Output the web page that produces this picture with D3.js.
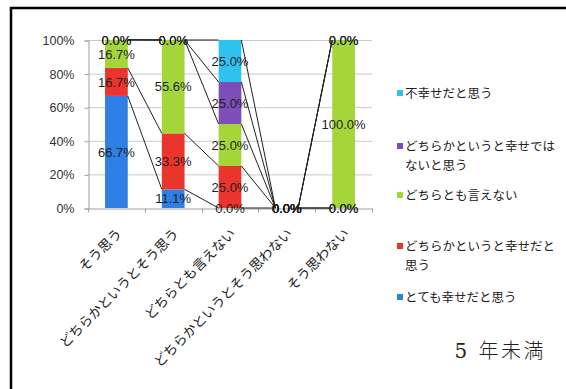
<!DOCTYPE html>
<html>
<head>
<meta charset="utf-8">
<script src="https://cdn.jsdelivr.net/npm/d3@7"></script>
<style>
  html, body { margin: 0; padding: 0; background: #fff; }
  svg { display: block; }
</style>
</head>
<body>
<svg id="chart" width="566" height="389"></svg>
<script>
// Answer categories along the x axis
const categories = ["そう思う", "どちらかというとそう思う", "どちらとも言えない", "どちらかというとそう思わない", "そう思わない"];

// Share (%) of each happiness answer within every category, stacked bottom to top
const veryHappy     = [66.7, 11.1, 0.0, 0.0, 0.0];
const fairlyHappy   = [16.7, 33.3, 25.0, 0.0, 0.0];
const neutral       = [16.7, 55.6, 25.0, 0.0, 100.0];
const fairlyUnhappy = [0.0, 0.0, 25.0, 0.0, 0.0];
const unhappy       = [0.0, 0.0, 25.0, 0.0, 0.0];

const seriesNames = ["とても幸せだと思う", "どちらかというと幸せだと思う", "どちらとも言えない", "どちらかというと幸せではないと思う", "不幸せだと思う"];
const seriesValues = [veryHappy, fairlyHappy, neutral, fairlyUnhappy, unhappy];
const seriesColors = ["#2f7fe4", "#e9352c", "#a4d63a", "#7d4db9", "#2fc2ee"];

const yTicks = [0, 20, 40, 60, 80, 100];
const subtitle = "5 年未満";

const svg = d3.select("#chart");

// Outer frame (left and top edges only are visible)
svg.append("path")
  .attr("d", "M11,389 V8 H566")
  .attr("fill", "none")
  .attr("stroke", "#000")
  .attr("stroke-width", 2.5);

const x = d3.scaleBand().domain(categories).range([88, 372]).paddingInner(0.6).paddingOuter(0.3);
const y = d3.scaleLinear().domain([0, 100]).range([208, 40]);

// Stack rows
const rows = categories.map((c, i) => {
  const r = { cat: c };
  seriesNames.forEach((s, k) => r[s] = seriesValues[k][i]);
  return r;
});
const stacked = d3.stack().keys(seriesNames)(rows);

// Gridlines
svg.append("g")
  .selectAll("line")
  .data(yTicks.filter(t => t > 0))
  .join("line")
  .attr("x1", 88).attr("x2", 372)
  .attr("y1", d => y(d) + 0.5).attr("y2", d => y(d) + 0.5)
  .attr("stroke", "#c9c9c9").attr("stroke-width", 1);

// Y axis
const yAxis = svg.append("g")
  .attr("transform", "translate(88.5,0.5)")
  .call(d3.axisLeft(y).tickValues(yTicks).tickFormat(d => d + "%").tickSize(4).tickPadding(10));
yAxis.select(".domain").attr("stroke", "#a0a0a0");
yAxis.selectAll(".tick line").attr("stroke", "#a0a0a0");
yAxis.selectAll(".tick text")
  .attr("font-family", "'Liberation Sans', Arial, sans-serif")
  .attr("font-size", 12.5)
  .attr("fill", "#333");

// X axis with tick marks at category boundaries
const step = x.step();
const boundaries = d3.range(categories.length + 1).map(i => x.range()[0] + i * step);
const xAxis = svg.append("g")
  .attr("transform", "translate(0,208.5)")
  .call(d3.axisBottom(x).tickSize(0).tickFormat(""));
xAxis.select(".domain").attr("stroke", "#a0a0a0");
xAxis.selectAll(".tick").remove();
xAxis.selectAll("line.bnd")
  .data(boundaries)
  .join("line")
  .attr("class", "bnd")
  .attr("x1", d => Math.round(d) + 0.5).attr("x2", d => Math.round(d) + 0.5)
  .attr("y1", 0).attr("y2", 4)
  .attr("stroke", "#a0a0a0");

// Category labels, rotated
svg.append("g")
  .selectAll("text")
  .data(categories)
  .join("text")
  .attr("transform", d => `translate(${x(d) + x.bandwidth() / 2 + 3},${231}) rotate(-45)`)
  .attr("text-anchor", "end")
  .attr("dy", "0.35em")
  .attr("font-family", "'Noto Sans CJK JP', sans-serif")
  .attr("font-size", 13.5)
  .attr("fill", "#222")
  .text(d => d);

// Bars
const bw = x.bandwidth();
svg.append("g")
  .selectAll("g")
  .data(stacked)
  .join("g")
  .attr("fill", (d, i) => seriesColors[i])
  .selectAll("rect")
  .data(d => d)
  .join("rect")
  .attr("x", d => x(d.data.cat))
  .attr("y", d => y(d[1]))
  .attr("width", bw)
  .attr("height", d => y(d[0]) - y(d[1]));

// Series lines joining the top of each segment between neighbouring bars
const seriesLines = [];
stacked.forEach(s => {
  for (let i = 0; i < categories.length - 1; i++) {
    seriesLines.push({
      x1: x(categories[i]) + bw, y1: y(s[i][1]),
      x2: x(categories[i + 1]), y2: y(s[i + 1][1])
    });
  }
});
svg.append("g")
  .selectAll("line")
  .data(seriesLines)
  .join("line")
  .attr("x1", d => d.x1).attr("y1", d => d.y1)
  .attr("x2", d => d.x2).attr("y2", d => d.y2)
  .attr("stroke", "#222")
  .attr("stroke-width", 1);

// Value labels centred on each segment
const labels = [];
stacked.forEach((s, k) => {
  s.forEach((d, i) => {
    labels.push({ cx: x(categories[i]) + bw / 2, cy: y((d[0] + d[1]) / 2), v: seriesValues[k][i] });
  });
});
svg.append("g")
  .selectAll("text")
  .data(labels)
  .join("text")
  .attr("x", d => d.cx)
  .attr("y", d => d.cy)
  .attr("dy", "0.36em")
  .attr("text-anchor", "middle")
  .attr("font-family", "'Liberation Sans', Arial, sans-serif")
  .attr("font-size", 13)
  .attr("fill", "#1e1e1e")
  .text(d => d.v.toFixed(1) + "%");

// Legend, top entry = top series
const legendItems = [
  { k: 4, lines: ["不幸せだと思う"], y: 93 },
  { k: 3, lines: ["どちらかというと幸せでは", "ないと思う"], y: 146 },
  { k: 2, lines: ["どちらとも言えない"], y: 195 },
  { k: 1, lines: ["どちらかというと幸せだと", "思う"], y: 246 },
  { k: 0, lines: ["とても幸せだと思う"], y: 297 }
];
const lg = svg.append("g").selectAll("g").data(legendItems).join("g");
lg.append("rect")
  .attr("x", 397).attr("y", d => d.y - 3)
  .attr("width", 6).attr("height", 6)
  .attr("fill", d => seriesColors[d.k]);
lg.each(function(d) {
  const t = d3.select(this).append("text")
    .attr("font-family", "'Noto Sans CJK JP', sans-serif")
    .attr("font-size", 12.5)
    .attr("fill", "#222");
  d.lines.forEach((ln, j) => {
    t.append("tspan").attr("x", 405).attr("y", d.y + j * 19).attr("dy", "0.36em").text(ln);
  });
});

// Subtitle
svg.append("text")
  .attr("x", 546).attr("y", 351)
  .attr("dy", "0.36em")
  .attr("text-anchor", "end")
  .attr("font-family", "'DejaVu Serif', 'Noto Sans CJK JP', serif")
  .attr("font-size", 20)
  .attr("font-weight", 300)
  .attr("letter-spacing", 2.5)
  .attr("fill", "#222")
  .text(subtitle);
</script>
</body>
</html>
